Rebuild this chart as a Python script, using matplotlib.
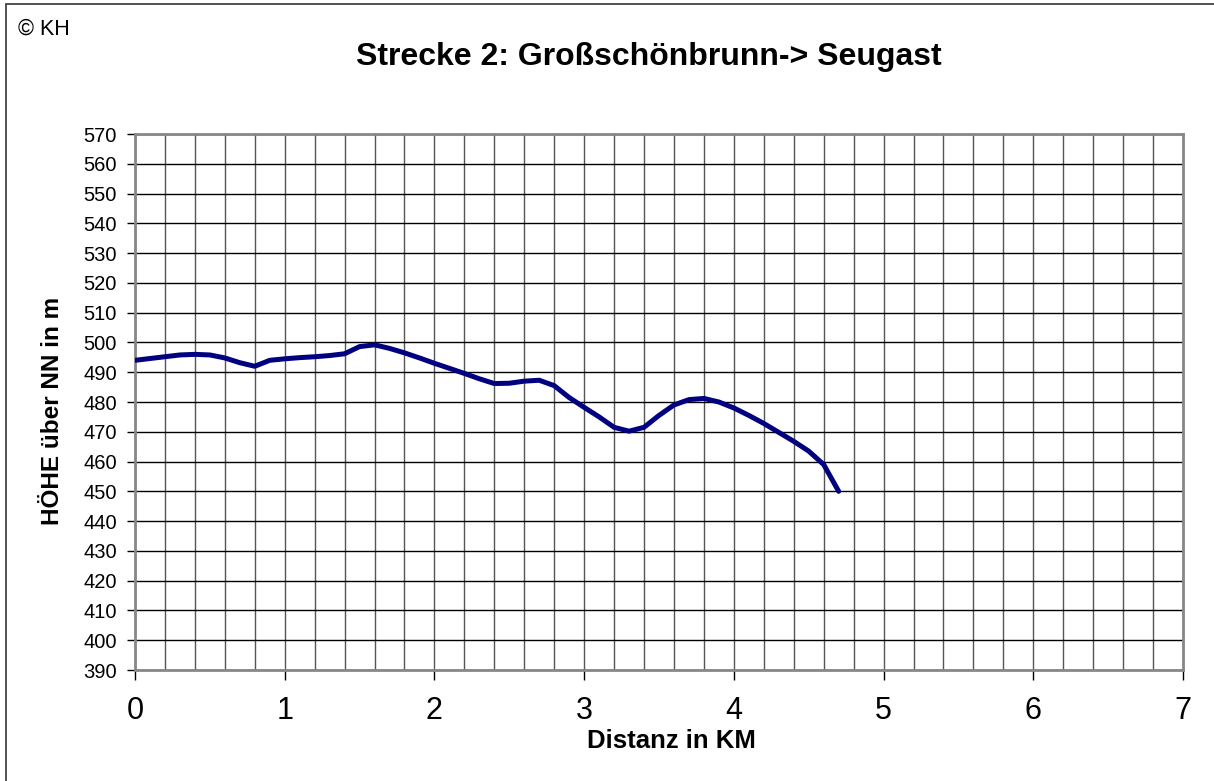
import matplotlib.pyplot as plt
from matplotlib.patches import Rectangle
import numpy as np

plt.rcParams['font.family'] = ['Liberation Sans', 'DejaVu Sans']

# distance (km) and elevation (m)
dist_km = [0.0, 0.1, 0.2, 0.3, 0.4, 0.5, 0.6, 0.7, 0.8, 0.9,
           1.0, 1.1, 1.2, 1.3, 1.4, 1.5, 1.6, 1.7, 1.8, 1.9,
           2.0, 2.1, 2.2, 2.3, 2.4, 2.5, 2.6, 2.7, 2.8, 2.9,
           3.0, 3.1, 3.2, 3.3, 3.4, 3.5, 3.6, 3.7, 3.8, 3.9,
           4.0, 4.1, 4.2, 4.3, 4.4, 4.5, 4.6, 4.7]
hoehe_m = [494.0, 494.6, 495.2, 495.8, 496.0, 495.8, 494.8, 493.2, 492.0, 494.0,
           494.5, 494.9, 495.2, 495.6, 496.2, 498.6, 499.2, 498.0, 496.5, 494.8,
           493.0, 491.3, 489.6, 487.8, 486.2, 486.3, 487.0, 487.3, 485.5, 481.5,
           478.2, 475.0, 471.5, 470.2, 471.5, 475.5, 479.0, 480.8, 481.2, 480.0,
           478.0, 475.5, 472.8, 469.8, 466.8, 463.5, 459.0, 450.0]

title = 'Strecke 2: Großschönbrunn-> Seugast'
x_label = 'Distanz in KM'
y_label = 'HÖHE über NN in m'
x_ticks = [0, 1, 2, 3, 4, 5, 6, 7]
y_ticks = list(range(390, 571, 10))

W, H = 1214, 781
fig = plt.figure(figsize=(W / 100, H / 100), dpi=100)
fig.patch.set_facecolor('white')

# outer frame of the chart object
fig.patches.append(Rectangle((6 / W, -0.1), 1.2, 1 - 4 / H + 0.1,
                             transform=fig.transFigure, fill=False,
                             edgecolor='#333333', linewidth=1.2))

ax = fig.add_axes([135 / W, 1 - 670 / H, (1183 - 135) / W, (670 - 134) / H])

ax.plot(dist_km, hoehe_m, color='#000080', linewidth=3.6,
        solid_joinstyle='round', solid_capstyle='round', zorder=3)

ax.set_xlim(0, 7)
ax.set_ylim(390, 570)
ax.set_xticks(x_ticks)
ax.set_xticks(np.arange(0, 7.01, 0.2), minor=True)
ax.set_yticks(y_ticks)

ax.grid(True, which='both', axis='x', color='#555555', linewidth=1)
ax.grid(True, which='major', axis='y', color='black', linewidth=1)
ax.set_axisbelow(True)

for sp in ax.spines.values():
    sp.set_color('#888888')
    sp.set_linewidth(2)

ax.tick_params(axis='x', which='major', labelsize=22, length=7, width=1,
               color='black', pad=12)
ax.tick_params(axis='x', which='minor', length=0)
ax.tick_params(axis='y', labelsize=14.5, length=6, width=1, color='black', pad=7)

ax.set_xlabel(x_label, fontsize=18.5, fontweight='bold', va='center')
ax.xaxis.set_label_coords(0.512, (670 - 741) / 536)
ax.set_ylabel(y_label, fontsize=17.5, fontweight='bold', va='center')
ax.yaxis.set_label_coords((52 - 135) / 1048, 0.483)

fig.text(649 / W, 1 - 57 / H, title, fontsize=23, fontweight='bold',
         ha='center', va='center')
fig.text(18 / W, 1 - 29 / H, '© KH', fontsize=15.5, ha='left', va='center')

fig.savefig('out.png', dpi=100)
